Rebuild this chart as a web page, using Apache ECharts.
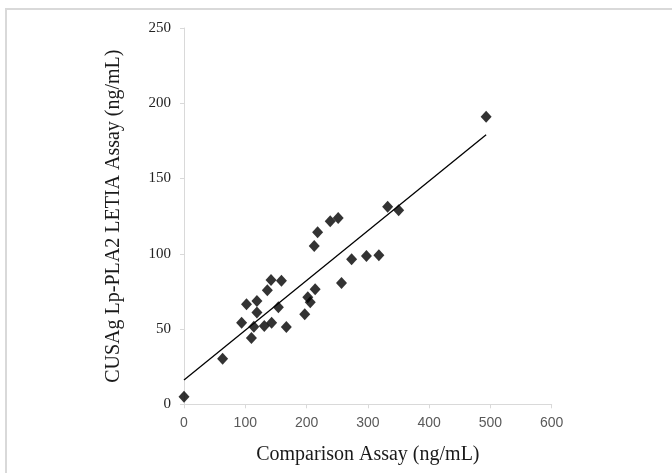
<!DOCTYPE html>
<html>
<head>
<meta charset="utf-8">
<script src="https://cdn.jsdelivr.net/npm/echarts@6/dist/echarts.min.js"></script>
<style>
html,body{margin:0;padding:0;background:#fff;}
#c{width:672px;height:473px;}
</style>
</head>
<body>
<div id="c"></div>
<script>
// Comparison Assay (ng/mL)
const comparison = [0, 63, 94, 102, 110, 114, 119, 119, 131, 136, 142, 143, 154, 159, 167, 197, 202, 206, 214, 212.5, 218, 238.6, 251.6, 257, 273.5, 297.7, 318, 332.3, 350.3, 493];
// CUSAg Lp-PLA2 LETIA Assay (ng/mL)
const letia = [5, 30.3, 54.2, 66.4, 44, 51.5, 68.6, 61, 52, 75.7, 82.5, 54.2, 64.4, 82, 51.3, 59.8, 71.2, 67.8, 76.4, 105.2, 114.3, 121.6, 123.8, 80.6, 96.3, 98.6, 99.1, 131.2, 129, 191];
// Trend line endpoints
const trendX = [0, 493];
const trendY = [16.2, 179];
const xTicks = [0, 100, 200, 300, 400, 500, 600];
const yTicks = [0, 50, 100, 150, 200, 250];

const points = comparison.map((x, i) => [x, letia[i]]);
const trend = trendX.map((x, i) => [x, trendY[i]]);

const chart = echarts.init(document.getElementById('c'));
chart.setOption({
  animation: false,
  backgroundColor: '#fff',
  graphic: [{
    type: 'rect',
    shape: {x: 6, y: 9, width: 700, height: 500},
    style: {fill: 'none', stroke: '#d9d9d9', lineWidth: 2},
    silent: true
  }],
  grid: {left: 184, right: 120.3, top: 28, bottom: 68.7},
  xAxis: {
    type: 'value', min: xTicks[0], max: xTicks[xTicks.length - 1], interval: 100,
    name: 'Comparison Assay (ng/mL)', nameLocation: 'middle', nameGap: 40,
    nameTextStyle: {fontFamily: 'Liberation Serif', fontSize: 20, color: '#1a1a1a'},
    axisLine: {show: true, lineStyle: {color: '#d9d9d9', width: 1}},
    axisTick: {show: true, length: 4, lineStyle: {color: '#d9d9d9'}},
    axisLabel: {fontFamily: 'Liberation Sans', fontSize: 14, color: '#595959', margin: 12},
    splitLine: {show: false}
  },
  yAxis: {
    type: 'value', min: yTicks[0], max: yTicks[yTicks.length - 1], interval: 50,
    name: 'CUSAg Lp-PLA2 LETIA Assay (ng/mL)', nameLocation: 'middle', nameGap: 60,
    nameTextStyle: {fontFamily: 'Liberation Serif', fontSize: 20, color: '#1a1a1a'},
    axisLine: {show: true, lineStyle: {color: '#d9d9d9', width: 1}},
    axisTick: {show: true, length: 4, lineStyle: {color: '#d9d9d9'}},
    axisLabel: {fontFamily: 'Liberation Serif', fontSize: 15, color: '#222', margin: 13},
    splitLine: {show: false}
  },
  series: [{
    type: 'scatter',
    data: points,
    symbol: 'diamond',
    symbolSize: [11, 12],
    itemStyle: {color: '#000'},
    z: 3
  }, {
    type: 'line',
    data: trend,
    symbol: 'none',
    lineStyle: {color: '#000', width: 1.3},
    z: 2
  }]
});
</script>
</body>
</html>
